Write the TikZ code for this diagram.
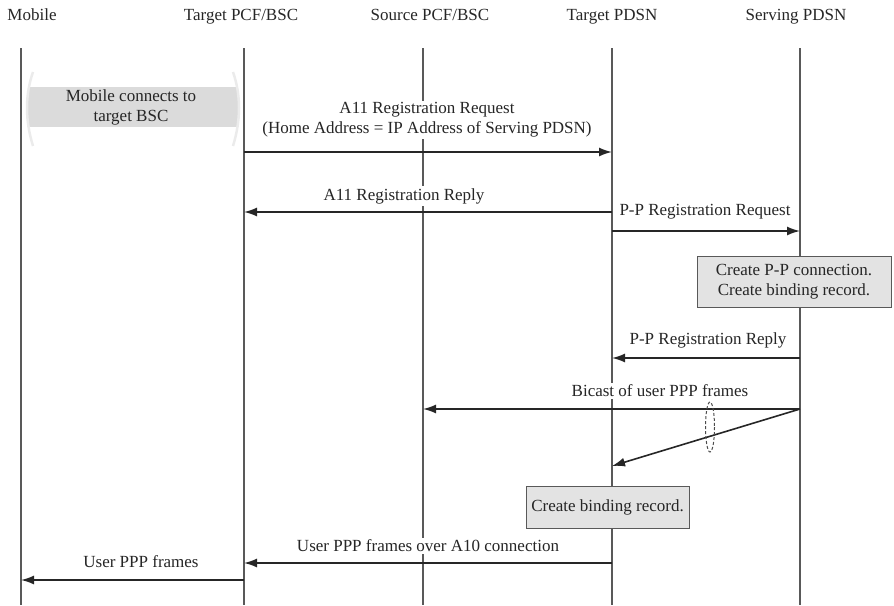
\documentclass[tikz,border=0pt]{standalone}
\usepackage{fontspec}
\setmainfont{Liberation Serif}
\usetikzlibrary{arrows.meta}
\begin{document}
\begin{tikzpicture}[x=1pt,y=-1pt,
  font=\fontsize{17}{20}\selectfont,
  every node/.style={text=black!85},
  header/.style={anchor=base},
  lifeline/.style={draw=black!65,line width=1.3pt},
  msg/.style={draw=black!85,line width=1.6pt,-{Latex[length=13pt,width=9pt]}},
  msglabel/.style={fill=white,inner sep=2pt,align=center},
  actionbox/.style={draw=black!65,line width=1pt,fill=black!11,align=center,inner sep=0pt},
  bracket/.style={draw=black!8,line width=2.5pt}]
\useasboundingbox (0,0) rectangle (894,605);

% participants
\node[header] (hM) at (32,20) {Mobile};
\node[header] (hT) at (241,20) {Target PCF/BSC};
\node[header] (hS) at (430,20) {Source PCF/BSC};
\node[header] (hP) at (612,20) {Target PDSN};
\node[header] (hV) at (796,20) {Serving PDSN};

% lifeline ends
\coordinate (M0) at (21,48);  \coordinate (M1) at (21,605);
\coordinate (T0) at (244,48); \coordinate (T1) at (244,605);
\coordinate (S0) at (423,48); \coordinate (S1) at (423,605);
\coordinate (P0) at (612,48); \coordinate (P1) at (612,605);
\coordinate (V0) at (800,48); \coordinate (V1) at (800,605);
\foreach \l in {M,T,S,P,V} \draw[lifeline] (\l0) -- (\l1);

% mobile attaches to the target BSC
\fill[black!14] (28,87) rectangle (238,127);
\draw[bracket] (33,72) .. controls (25,95) and (25,120) .. (33,146);
\draw[bracket] (233,72) .. controls (241,95) and (241,120) .. (233,146);
\node[align=center] (conn) at (131,107) {Mobile connects to\\target BSC};

% message end points
\coordinate (r1a) at (244,152); \coordinate (r1b) at (612,152);
\coordinate (r2a) at (612,212); \coordinate (r2b) at (244,212);
\coordinate (r3a) at (612,231); \coordinate (r3b) at (800,231);
\coordinate (r4a) at (800,358); \coordinate (r4b) at (612,358);
\coordinate (b0)  at (800,409); \coordinate (b1) at (423,409);
\coordinate (b2)  at (612,466);
\coordinate (u1a) at (612,563); \coordinate (u1b) at (244,563);
\coordinate (u2a) at (244,580); \coordinate (u2b) at (21,580);

% labels (white backing hides the lifelines behind them)
\node[msglabel] (l1) at (427,120) {A11 Registration Request\\(Home Address = IP Address of Serving PDSN)};
\node[msglabel] (l2) at (404,196) {A11 Registration Reply};
\node[msglabel] (l3) at (705,212) {P-P Registration Request};
\node[msglabel] (l4) at (708,340) {P-P Registration Reply};
\node[msglabel] (l5) at (660,391) {Bicast of user PPP frames};
\node[msglabel] (l6) at (428,546) {User PPP frames over A10 connection};
\node[msglabel] (l7) at (141,562) {User PPP frames};

% processing boxes
\node[actionbox,minimum width=194pt,minimum height=51pt] (box1) at (794,281.5)
  {Create P-P connection.\\Create binding record.};
\node[actionbox,minimum width=163pt,minimum height=42pt] (box2) at (607.5,507)
  {Create binding record.};

% messages
\draw[msg] (r1a) -- (r1b);
\draw[msg] (r2a) -- (r2b);
\draw[msg] (r3a) -- (r3b);
\draw[msg] (r4a) -- (r4b);
\draw[msg] (b0) -- (b1);
\draw[msg] (b0) -- (b2);
\draw[msg] (u1a) -- (u1b);
\draw[msg] (u2a) -- (u2b);

% grouping of the bicast pair
\draw[black!70,line width=1pt,dashed,dash pattern=on 3pt off 2pt] (710,427) ellipse [x radius=4.5, y radius=25];
\end{tikzpicture}
\end{document}
